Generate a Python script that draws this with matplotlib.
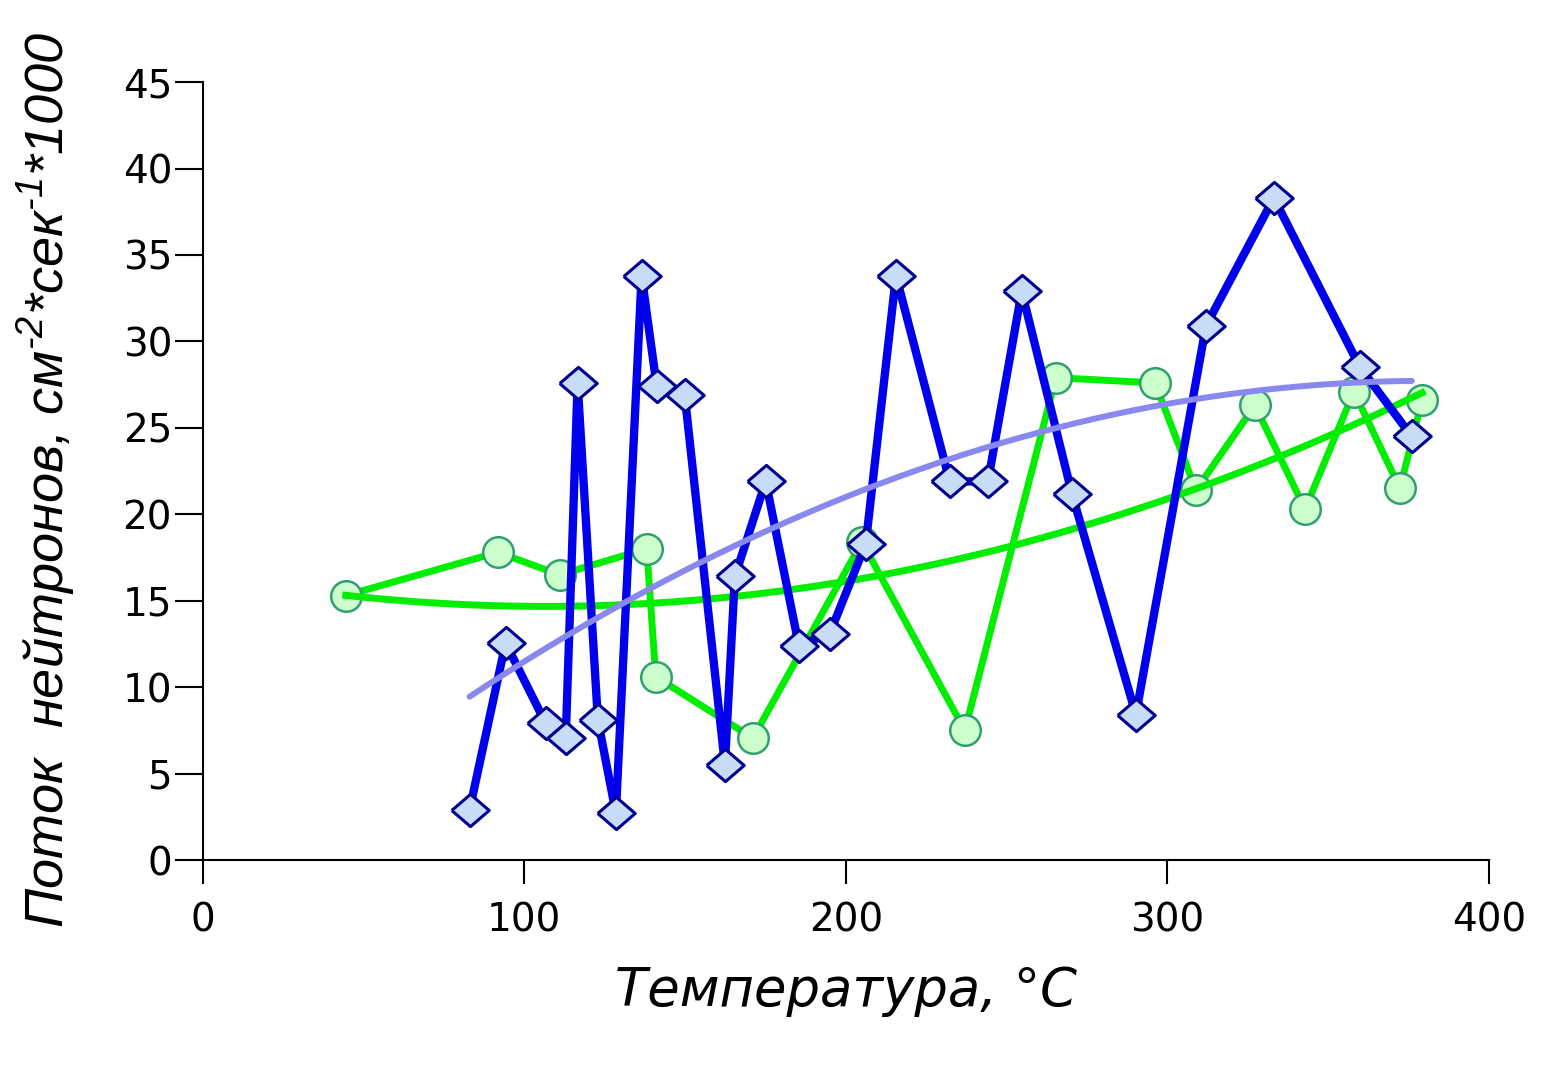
import numpy as np
import matplotlib.pyplot as plt

plt.rcParams['mathtext.fontset'] = 'custom'
plt.rcParams['mathtext.rm'] = 'Liberation Sans:italic'
plt.rcParams['mathtext.it'] = 'Liberation Sans:italic'

# blue series (diamonds)
t_blue = [83.0, 94.2, 106.7, 112.9, 116.6, 122.9, 128.5, 136.5, 141.2, 149.9,
          162.4, 165.5, 175.1, 185.4, 195.0, 206.2, 215.6, 232.3, 244.2, 254.7,
          270.3, 290.2, 312.0, 333.1, 359.9, 376.0]
f_blue = [2.9, 12.55, 7.9, 7.05, 27.6, 8.1, 2.7, 33.8, 27.4, 26.9,
          5.5, 16.4, 21.9, 12.4, 13.1, 18.3, 33.8, 21.9, 21.9, 32.9,
          21.2, 8.4, 30.9, 38.3, 28.5, 24.5]

# green series (circles)
t_green = [44.5, 91.8, 111.0, 138.1, 140.9, 171.1, 205.0, 237.0, 265.3, 296.1,
           308.9, 327.2, 342.8, 358.0, 372.3, 379.2]
f_green = [15.3, 17.8, 16.5, 18.0, 10.6, 7.05, 18.4, 7.5, 27.9, 27.6,
           21.4, 26.3, 20.3, 27.1, 21.5, 26.6]

xticks = [0, 100, 200, 300, 400]
yticks = list(range(0, 50, 5))

# slightly flattened diamond
diamond = [(-1, 0), (0, 0.86), (1, 0), (0, -0.86), (-1, 0)]

fig = plt.figure(figsize=(15.47, 10.8), dpi=100)
ax = fig.add_axes([0.131, 0.2037, 0.8315, 0.7203])

# green
ax.plot(t_green, f_green, color='#00ee00', lw=5, zorder=2,
        marker='o', ms=22, mfc='#ccffcc', mec='#30a070', mew=1.8)
cg = np.polyfit(t_green, f_green, 2)
xg = np.linspace(min(t_green), max(t_green), 200)
ax.plot(xg, np.polyval(cg, xg), color='#00ee00', lw=5, zorder=2)

# blue
ax.plot(t_blue, f_blue, color='#0000ee', lw=6, zorder=3,
        marker=diamond, ms=27, mfc='#c8dcf8', mec='#000090', mew=2.2)
cb = np.polyfit(t_blue, f_blue, 2)
xb = np.linspace(min(t_blue), max(t_blue), 200)
ax.plot(xb, np.polyval(cb, xb), color='#8888ee', lw=4.3, zorder=4,
        solid_capstyle='round')

ax.set_xlim(0, 400)
ax.set_ylim(0, 45)
ax.set_xticks(xticks)
ax.set_yticks(yticks)
ax.spines['top'].set_visible(False)
ax.spines['right'].set_visible(False)
ax.spines['left'].set_linewidth(1.5)
ax.spines['bottom'].set_linewidth(1.5)
ax.tick_params(axis='y', direction='out', length=20, width=1.5, labelsize=28, pad=2)
ax.tick_params(axis='x', direction='out', length=17, width=1.5, labelsize=28, pad=13)
for lab in ax.get_xticklabels() + ax.get_yticklabels():
    lab.set_family('DejaVu Sans')

ax.set_xlabel('Температура, °C', fontsize=38, style='italic',
              family='DejaVu Sans')
ax.xaxis.set_label_coords(0.5, -0.135)
ax.set_ylabel(r'Поток  нейтронов, см$^{\text{-2}}$*сек$^{\text{-1}}$*1000',
              fontsize=39, style='italic', family='Liberation Sans')
ax.yaxis.set_label_coords(-0.098, 0.488)

fig.savefig('out.png', dpi=100)
